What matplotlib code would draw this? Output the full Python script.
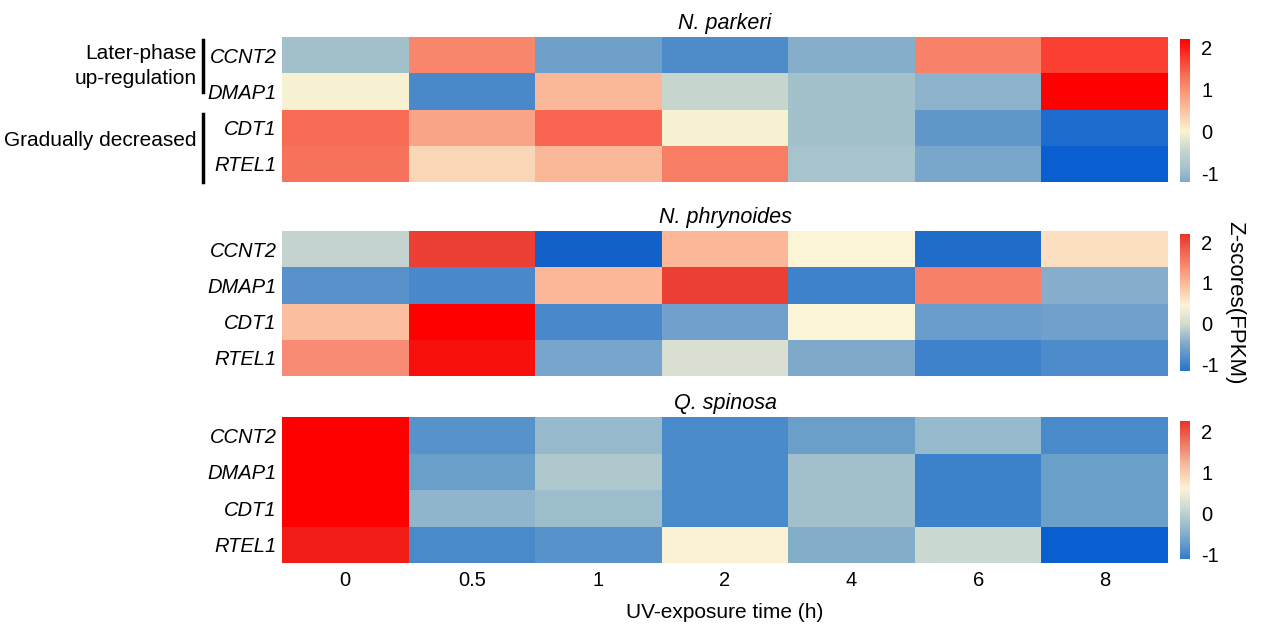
import matplotlib
matplotlib.use("Agg")
import matplotlib.pyplot as plt
import numpy as np
from matplotlib.colors import LinearSegmentedColormap, Normalize
from matplotlib.colorbar import ColorbarBase

plt.rcParams['font.family'] = ['Arial', 'Liberation Sans', 'DejaVu Sans']

times = ["0", "0.5", "1", "2", "4", "6", "8"]
genes = ["CCNT2", "DMAP1", "CDT1", "RTEL1"]
species = ["N. parkeri", "N. phrynoides", "Q. spinosa"]

# Z-scores of FPKM per gene (rows) across UV-exposure time points (columns)
z_parkeri = [
    [-0.9, 1.1, -1.27, -1.43, -1.15, 1.15, 1.7],
    [0.0, -1.45, 0.6, -0.45, -0.9, -1.08, 2.2],
    [1.35, 0.8, 1.4, 0.0, -0.9, -1.33, -1.72],
    [1.3, 0.3, 0.6, 1.2, -0.85, -1.22, -1.85],
]
z_phrynoides = [
    [-0.1, 2.1, -1.32, 1.0, 0.45, -1.22, 0.65],
    [-0.78, -0.9, 1.0, 2.1, -1.0, 1.5, -0.45],
    [0.95, 2.5, -0.9, -0.6, 0.45, -0.65, -0.6],
    [1.4, 2.4, -0.55, 0.05, -0.5, -1.0, -0.88],
]
z_spinosa = [
    [2.6, -0.85, -0.35, -0.95, -0.7, -0.35, -0.95],
    [2.6, -0.7, -0.15, -0.95, -0.25, -1.05, -0.7],
    [2.6, -0.4, -0.3, -0.95, -0.25, -1.05, -0.7],
    [2.4, -0.95, -0.85, 0.6, -0.5, 0.1, -1.4],
]

# Colour ramps (value, colour) for each species panel
ramp_parkeri = [(-1.85, "#0A5FD0"), (-1.45, "#4A89C9"), (-1.2, "#7FAACB"),
                (-0.9, "#A3C1CB"), (-0.45, "#C6D6CF"), (0.0, "#F8F4D2"),
                (0.6, "#FBB898"), (1.3, "#F7735C"), (2.2, "#FF0000")]
ramp_phrynoides = [(-1.35, "#0F60C8"), (-1.0, "#3D82CB"), (-0.5, "#7FA9CB"),
                   (0.0, "#D5DDD0"), (0.45, "#FCF4D6"), (1.0, "#FBB898"),
                   (1.5, "#F7806A"), (2.2, "#E8352A"), (2.5, "#FF0000")]
ramp_spinosa = [(-1.4, "#0A5FD0"), (-1.05, "#3D82CA"), (-0.7, "#6BA0CA"),
                (-0.3, "#9CBDCB"), (0.1, "#C8D8D1"), (0.6, "#FBF3D5"),
                (1.2, "#F6B89C"), (2.25, "#E8352A"), (2.6, "#FF0000")]
cbar_limits = [(-1.2, 2.24), (-1.17, 2.2), (-1.12, 2.25)]


def make_cmap(ramp):
    vals = np.array([v for v, _ in ramp])
    pos = (vals - vals[0]) / (vals[-1] - vals[0])
    cmap = LinearSegmentedColormap.from_list("z", list(zip(pos, [c for _, c in ramp])))
    return cmap, Normalize(vmin=vals[0], vmax=vals[-1])


W, H = 1264, 628
fig = plt.figure(figsize=(W / 100, H / 100), dpi=100)


def px_axes(x0, y0, x1, y1):
    return fig.add_axes([x0 / W, 1 - y1 / H, (x1 - x0) / W, (y1 - y0) / H])


panels = [(37, 182), (231, 376), (417, 563)]
cbars = [(37, 182), (234, 371), (421, 559)]
data = [z_parkeri, z_phrynoides, z_spinosa]
ramps = [ramp_parkeri, ramp_phrynoides, ramp_spinosa]
hx0, hx1 = 282, 1168
fs = 14.5

for i in range(3):
    cmap, norm = make_cmap(ramps[i])
    ax = px_axes(hx0, panels[i][0], hx1, panels[i][1])
    arr = np.array(data[i])
    ax.pcolormesh(np.arange(len(times) + 1), np.arange(len(genes) + 1), arr,
                  cmap=cmap, norm=norm, shading="flat")
    ax.set_xlim(0, len(times))
    ax.set_ylim(len(genes), 0)
    for s in ax.spines.values():
        s.set_visible(False)
    ax.set_yticks(np.arange(len(genes)) + 0.5)
    ax.set_yticklabels(genes, fontsize=fs, style="italic")
    ax.tick_params(axis="y", length=0, pad=4)
    if i == 2:
        ax.set_xticks(np.arange(len(times)) + 0.5)
        ax.set_xticklabels(times, fontsize=fs)
        ax.tick_params(axis="x", length=0, pad=6)
        ax.set_xlabel("UV-exposure time (h)", fontsize=15, labelpad=9)
    else:
        ax.set_xticks([])
    ax.set_title(species[i], fontsize=15.5, style="italic", pad=6)

    cax = px_axes(1180, cbars[i][0], 1190, cbars[i][1])
    cb = ColorbarBase(cax, cmap=cmap, norm=norm, orientation="vertical")
    cb.outline.set_visible(False)
    cax.set_ylim(*cbar_limits[i])
    cb.set_ticks([-1, 0, 1, 2])
    cb.set_ticklabels(["-1", "0", "1", "2"])
    cax.tick_params(length=0, labelsize=fs, pad=8)
    if i == 1:
        cax.yaxis.set_label_position("right")
        cax.set_ylabel("Z-scores(FPKM)", rotation=-90, fontsize=16, labelpad=19)

# Gene group annotations on the first panel
fig.lines.append(plt.Line2D([203 / W, 203 / W], [1 - 40 / H, 1 - 92 / H],
                            transform=fig.transFigure, color="black", lw=2.5))
fig.lines.append(plt.Line2D([203 / W, 203 / W], [1 - 114 / H, 1 - 182 / H],
                            transform=fig.transFigure, color="black", lw=2.5))
fig.text(197 / W, 1 - 66 / H, "Later-phase\nup-regulation", ha="right", va="center",
         fontsize=15, linespacing=1.4)
fig.text(197 / W, 1 - 141 / H, "Gradually decreased", ha="right", va="center",
         fontsize=15)

fig.savefig("out.png", dpi=100)
